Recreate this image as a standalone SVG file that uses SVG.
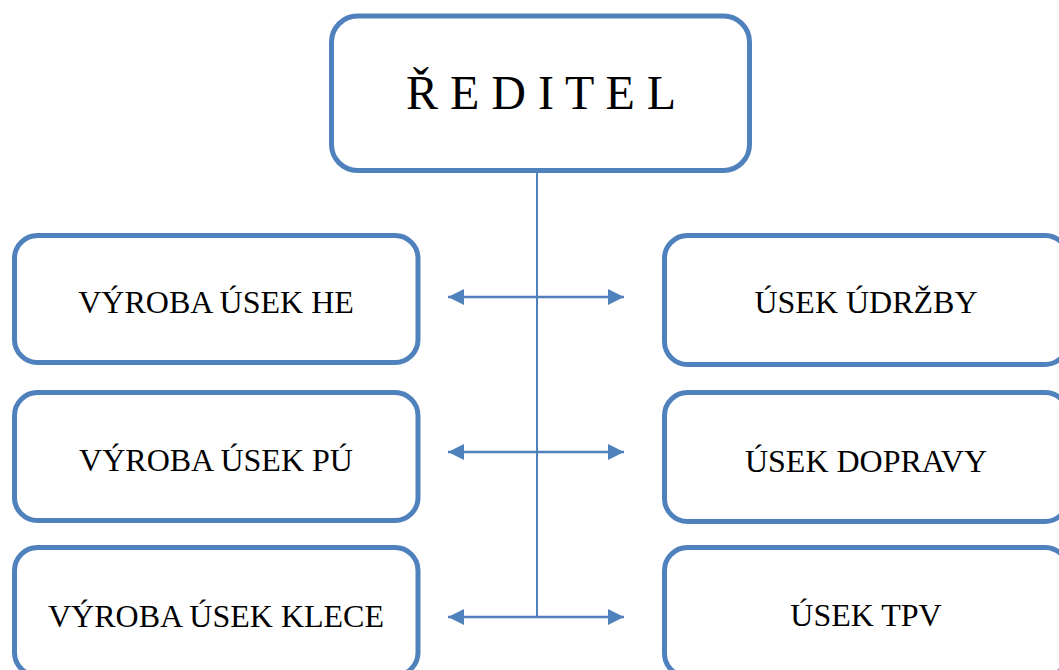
<svg xmlns="http://www.w3.org/2000/svg" width="1059" height="670" viewBox="0 0 1059 670">
<style>
.box{fill:#ffffff;stroke:#4F81BD;stroke-width:5}
.lbl{font-family:"Liberation Serif","Times New Roman",serif;font-size:32px;fill:#000;text-anchor:middle}
.title{font-family:"Liberation Serif","Times New Roman",serif;font-size:48px;fill:#000;text-anchor:middle}
.conn{stroke:#4F81BD;stroke-width:2;fill:none}
.arr{stroke:#4F81BD;stroke-width:2.6;fill:none}
</style>
<defs>
<marker id="ah" markerUnits="userSpaceOnUse" markerWidth="17" markerHeight="18" refX="16" refY="8.5" orient="auto-start-reverse" viewBox="0 0 17 18">
<path d="M0,0.5 L16,8.5 L0,16.5 Z" fill="#4F81BD"/>
</marker>
</defs>
<rect width="1059" height="670" fill="#ffffff"/>
<g id="connectors">
<line class="conn" x1="537" y1="172" x2="537" y2="618"/>
<line class="arr" x1="448" y1="297" x2="624" y2="297" marker-start="url(#ah)" marker-end="url(#ah)"/>
<line class="arr" x1="448" y1="452" x2="624" y2="452" marker-start="url(#ah)" marker-end="url(#ah)"/>
<line class="arr" x1="448" y1="617" x2="624" y2="617" marker-start="url(#ah)" marker-end="url(#ah)"/>
</g>
<g id="reditel">
<rect class="box" x="331.5" y="16" width="418" height="154.5" rx="26"/>
<text class="title" x="541" y="109">Ř E D I T E L</text>
</g>
<g id="vyroba-he">
<rect class="box" x="14.5" y="235.5" width="403.5" height="127" rx="23"/>
<text class="lbl" x="216" y="313">VÝROBA ÚSEK HE</text>
</g>
<g id="vyroba-pu">
<rect class="box" x="14.5" y="392.5" width="403.5" height="128" rx="23"/>
<text class="lbl" x="216" y="471">VÝROBA ÚSEK PÚ</text>
</g>
<g id="vyroba-klece">
<rect class="box" x="14.5" y="547.5" width="403.5" height="128" rx="23"/>
<text class="lbl" x="216" y="627">VÝROBA ÚSEK KLECE</text>
</g>
<g id="udrzby">
<rect class="box" x="664.5" y="235.5" width="403.5" height="129" rx="23"/>
<text class="lbl" x="866" y="313">ÚSEK ÚDRŽBY</text>
</g>
<g id="dopravy">
<rect class="box" x="664.5" y="392.5" width="403.5" height="129" rx="23"/>
<text class="lbl" x="866" y="472">ÚSEK DOPRAVY</text>
</g>
<g id="tpv">
<rect class="box" x="664.5" y="547.5" width="403.5" height="129" rx="23"/>
<text class="lbl" x="866" y="626">ÚSEK TPV</text>
</g>
</svg>
